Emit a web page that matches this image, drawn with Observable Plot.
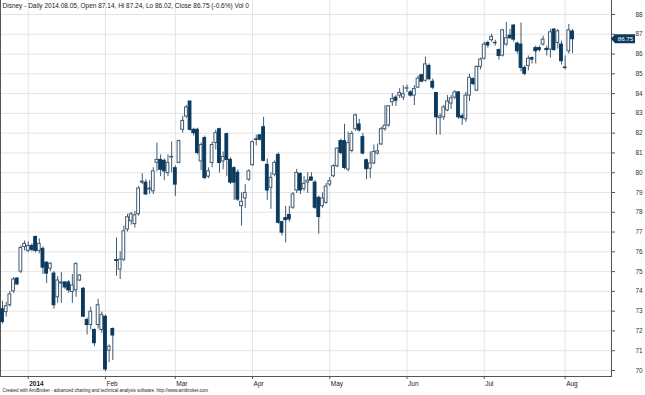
<!DOCTYPE html>
<html><head><meta charset="utf-8">
<script src="https://cdn.jsdelivr.net/npm/d3@7"></script>
<script src="https://cdn.jsdelivr.net/npm/@observablehq/plot@0.6"></script>
<style>body{margin:0;background:#fff;} svg{display:block}</style>
</head><body><div id="chart"></div>
<script>
const opens = [73.1,72.95,73.3,74.0,74.65,75.0,76.25,76.05,76.3,76.75,76.05,76.15,75.45,75.15,74.9,73.7,74.4,74.45,74.45,73.97,74.05,74.55,74.13,72.55,72.3,72.05,72.3,72.05,72.72,71.0,72.1,
75.58,75.1,75.6,77.13,77.55,77.4,77.9,79.5,79.5,79.15,79.06,80.5,80.65,80.6,79.98,80.77,80.23,80.5,82.17,82.84,83.6,82.17,82.17,80.57,81.75,79.8,80.49,81.5,82.2,80.57,81.95,80.65,80.23,80.0,
78.31,78.7,79.65,80.38,81.68,81.89,82.3,80.4,79.24,79.9,80.9,77.5,77.7,77.86,78.23,79.1,79.94,79.18,79.5,79.76,79.5,78.73,78.31,78.48,79.4,79.82,80.33,81.6,81.6,80.16,81.1,82.2,82.44,81.8,80.63,
80.2,80.47,80.97,81.43,82.2,82.39,83.56,83.8,83.9,83.8,84.25,84.06,83.9,84.3,84.93,84.65,85.4,84.6,84.03,82.76,82.8,83.15,83.5,83.8,84.06,82.85,82.7,83.9,84.73,84.15,85.35,85.76,
86.56,86.7,86.56,86.2,85.92,86.48,86.93,87.44,86.53,86.48,85.3,85.4,85.8,86.3,86.3,86.48,86.26,86.23,87.24,86.56,86.48,85.32,86.14,87.14];
const highs = [73.5,73.45,74.0,74.7,74.7,76.3,76.55,76.5,76.4,76.8,76.65,76.25,75.5,75.45,75.0,74.75,74.95,74.5,74.55,74.85,75.45,74.85,74.2,72.65,73.2,72.1,73.6,72.95,72.8,71.3,72.15,
76.7,76.0,77.3,77.9,78.0,78.05,79.3,79.95,79.65,79.6,80.25,81.5,80.9,80.7,80.9,81.55,80.35,81.65,82.85,83.4,83.6,82.25,82.25,81.5,81.85,80.25,81.55,82.15,82.25,81.05,82.0,80.75,80.3,80.15,
78.98,79.4,80.15,81.6,81.9,81.9,82.8,80.7,80.0,80.6,81.0,77.55,78.3,78.3,79.0,80.17,80.0,79.8,80.0,80.0,79.6,78.82,78.98,79.45,79.75,80.4,81.25,81.7,82.45,82.05,82.1,82.97,82.7,81.98,80.7,
81.05,81.4,81.45,82.3,83.4,83.4,84.0,83.9,84.25,84.4,84.43,84.15,84.4,84.9,84.98,85.85,85.5,84.73,84.06,82.97,83.4,83.9,83.9,84.15,84.1,82.97,84.06,84.98,84.8,85.4,85.8,86.6,
86.65,87.0,86.7,86.25,87.25,87.6,87.25,87.5,86.6,87.57,85.4,85.9,85.85,86.4,86.4,86.9,86.4,87.25,87.28,87.24,86.65,85.9,87.5,87.24];
const lows = [72.35,72.7,73.2,73.9,74.3,74.9,76.05,75.95,76.0,75.95,75.9,74.85,74.4,75.0,73.1,73.4,73.4,74.1,73.9,73.4,73.7,74.5,72.7,71.8,72.05,71.2,72.1,71.88,69.95,70.4,70.5,
74.77,74.6,75.5,77.0,77.35,77.2,77.8,79.4,78.85,78.9,78.9,80.05,79.8,79.6,79.8,80.0,78.8,80.45,82.0,82.75,82.1,81.85,80.9,80.1,79.65,79.7,80.25,81.15,79.98,80.15,79.8,79.4,78.6,78.55,
77.3,78.2,79.55,80.33,81.35,81.6,80.55,78.6,78.15,79.8,77.4,76.8,76.45,77.5,78.15,78.95,78.9,79.05,78.95,79.6,78.15,76.9,78.2,78.4,79.3,79.75,80.25,80.9,80.15,80.05,81.0,82.1,82.05,80.9,79.65,
79.7,80.4,80.9,81.38,82.1,82.3,83.35,83.35,83.75,83.65,84.06,83.82,83.4,84.25,84.58,84.58,84.65,84.2,81.9,81.9,82.65,83.08,83.2,83.7,82.7,82.4,82.55,83.6,84.4,84.1,85.2,85.7,
86.3,86.6,86.4,85.7,85.85,86.4,86.75,86.6,86.0,85.1,84.9,85.15,85.5,85.5,86.1,86.4,85.9,85.8,86.15,86.25,85.45,85.2,86.0,86.02];
const closes = [72.45,73.25,73.85,74.6,74.35,76.2,76.4,76.3,76.1,76.05,76.4,75.2,74.9,75.4,73.3,74.55,74.45,74.2,74.05,74.3,75.38,74.8,72.72,72.3,72.97,71.38,73.3,72.8,70.05,71.2,71.77,
75.54,75.6,77.04,77.75,77.9,77.85,79.2,79.55,78.9,79.2,80.07,80.65,80.15,80.07,80.5,80.8,79.4,81.6,82.62,83.3,82.17,82.0,81.0,81.4,79.73,80.07,81.4,82.0,80.49,80.8,80.65,79.5,79.5,78.64,
78.53,78.98,80.07,81.55,81.66,81.67,80.6,79.1,79.74,80.5,77.47,76.97,77.6,77.64,78.9,79.99,79.1,79.44,79.6,79.6,78.23,77.76,78.7,79.3,79.57,80.33,81.22,81.0,80.24,81.5,81.96,82.9,82.14,80.97,80.18,
80.47,81.05,81.08,82.2,82.38,83.36,83.72,83.64,84.03,83.97,84.27,83.9,84.23,84.76,84.6,85.48,84.73,84.3,82.8,82.85,83.3,83.6,83.76,84.06,82.8,82.76,83.9,84.8,84.48,85.35,85.72,86.48,
86.43,86.87,86.55,85.9,87.2,86.8,86.8,86.73,86.14,85.3,85.0,85.76,85.72,86.14,86.2,86.73,86.2,87.1,86.2,87.15,85.64,85.3,87.2,86.75];
const monthLabels = ["2014","Feb","Mar","Apr","May","Jun","Jul","Aug"];
const monthStarts = [7,28,47,68,89,110,131,153];
const priceTicks = [70,71,72,73,74,75,76,77,78,79,80,81,82,83,84,85,86,87,88];
const title = "Disney - Daily 2014.08.05, Open 87.14, Hi 87.24, Lo 86.02, Close 86.75 (-0.6%) Vol 0";
const caption = "Created with AmiBroker - advanced charting and technical analysis software. http://www.amibroker.com";
const lastClose = 86.75;

const bars = opens.map((o, i) => ({i, open: o, high: highs[i], low: lows[i], close: closes[i]}));
const DARK = "#0b3a5e", WICK = "#3f5a73", GRID = "#e4e4e4", AXIS = "#555";

const plot = Plot.plot({
  width: 645, height: 395,
  marginTop: 0, marginBottom: 19, marginLeft: 0, marginRight: 34,
  style: {fontFamily: "'Liberation Sans', Arial, sans-serif", fontSize: "6.5px", background: "#fff", color: "#222"},
  x: {type: "linear", domain: [0, bars.length - 1], range: [2, 572], axis: null},
  y: {domain: [70, 88], range: [370, 14], axis: null},
  marks: [
    Plot.gridY(priceTicks, {stroke: GRID, strokeOpacity: 1}),
    Plot.gridX(monthStarts, {stroke: GRID, strokeOpacity: 1}),
    Plot.frame({anchor: "bottom", stroke: AXIS}),
    Plot.frame({anchor: "right", stroke: AXIS}),
    Plot.frame({anchor: "left", stroke: AXIS}),
    Plot.ruleX(bars, {x: "i", y1: "low", y2: "high", stroke: WICK, strokeWidth: 1}),
    Plot.rect(bars, {
      x1: d => d.i - 0.38, x2: d => d.i + 0.38, y1: "open", y2: "close",
      fill: d => d.close >= d.open ? "#ffffff" : DARK,
      stroke: d => d.close >= d.open ? WICK : DARK, strokeWidth: 1
    }),
    Plot.axisY(priceTicks, {anchor: "right", tickSize: 3, tickPadding: 21, label: null, fill: "#333", stroke: AXIS}),
    Plot.axisX(monthStarts, {anchor: "bottom", tickSize: 3, tickFormat: () => "", label: null, stroke: AXIS}),
    Plot.text(monthStarts.slice(0, 1), {x: d => d, text: () => monthLabels[0], frameAnchor: "bottom", lineAnchor: "middle", dy: 7, dx: 1, textAnchor: "start", fontWeight: "bold", fill: "#222"}),
    Plot.text(monthStarts.slice(1), {x: d => d, text: (d, i) => monthLabels[i + 1], frameAnchor: "bottom", lineAnchor: "middle", dy: 7, dx: 1, textAnchor: "start", fill: "#222"}),
    Plot.text([title], {frameAnchor: "top-left", lineAnchor: "middle", dx: 2, dy: 5, textAnchor: "start", fill: "#222"}),
    Plot.text([caption], {frameAnchor: "bottom-left", lineAnchor: "middle", dx: 2, dy: 14, textAnchor: "start", fontSize: 4.5, fill: "#222"})
  ]
});

const svg = d3.select(plot);
const yPos = plot.scale("y").apply(lastClose);
const ax = 611;
const g = svg.append("g");
g.append("path")
  .attr("d", `M${ax},${yPos} L${ax + 4},${yPos - 4.5} L${ax + 24},${yPos - 4.5} L${ax + 24},${yPos + 4.5} L${ax + 4},${yPos + 4.5} Z`)
  .attr("fill", DARK);
g.append("text").attr("x", ax + 14.5).attr("y", yPos).attr("dy", "0.35em")
  .attr("text-anchor", "middle").attr("fill", "#fff").attr("font-size", 6.2)
  .text(lastClose.toFixed(2));

document.getElementById("chart").append(plot);
</script>
</body></html>
